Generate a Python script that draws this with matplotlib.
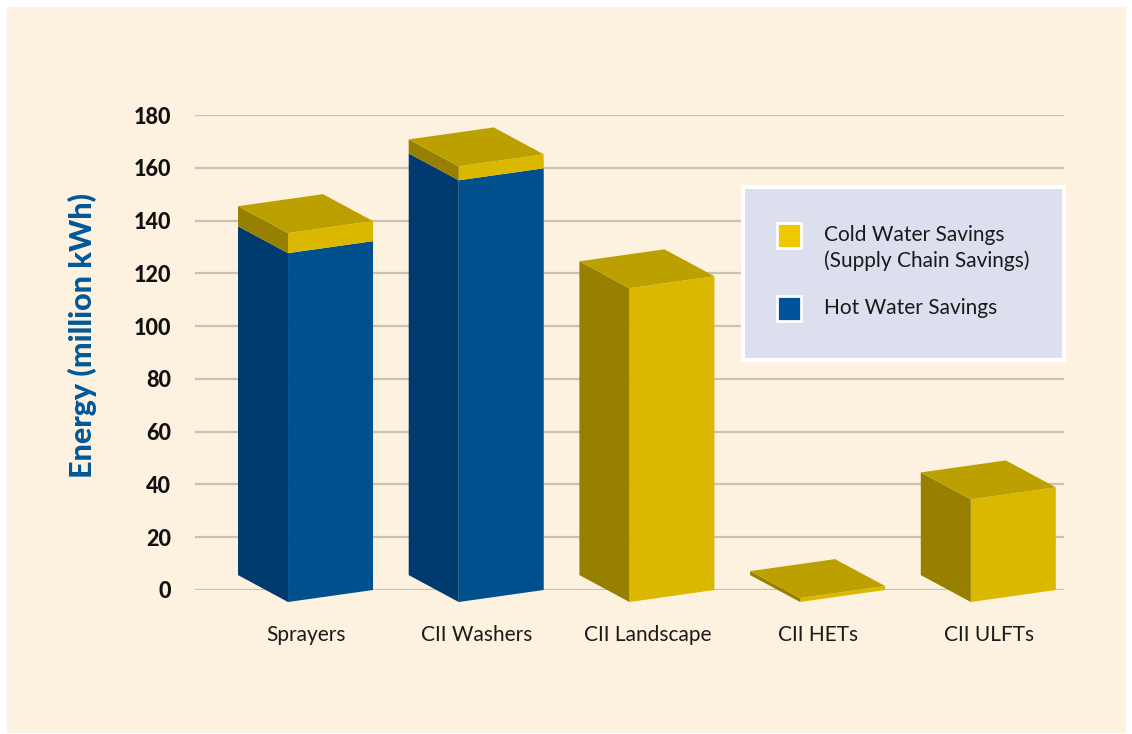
import matplotlib.pyplot as plt
from matplotlib.patches import Polygon, Rectangle

# Data (million kWh)
categories = ['Sprayers', 'CII Washers', 'CII Landscape', 'CII HETs', 'CII ULFTs']
hot_water = [132.2, 159.8, 0.0, 0.0, 0.0]
cold_water = [7.6, 5.3, 118.9, 1.5, 38.9]
y_ticks = [0, 20, 40, 60, 80, 100, 120, 140, 160, 180]

# Colours: (front, side, top)
YELLOW = ('#dbb800', '#978000', '#bca000')
BLUE = ('#00508e', '#003a6e', '#00467e')
CREAM = '#fdf1e0'
GRID = '#cbc2b6'

# Fake-3D geometry in data units
FRONT_W, FRONT_RISE = 0.498, 4.55
SIDE_W, SIDE_RISE = 0.293, 10.2
FRONT_SHIFT = -0.105
BASE = -4.55

plt.rcParams['font.family'] = ['Lato', 'DejaVu Sans']

fig = plt.figure(figsize=(11.32, 7.34), dpi=100, facecolor='white')
fig.patches.append(Rectangle((7 / 1132, 1 / 734), 1119 / 1132, 726 / 734,
                             transform=fig.transFigure, facecolor=CREAM,
                             edgecolor='none', zorder=-10))

ax = fig.add_axes([195 / 1132, 144 / 734, 869 / 1132, 475 / 734])
ax.set_facecolor('none')
ax.set_xlim(-0.650, 4.441)
ax.set_ylim(0, 180)
for s in ax.spines.values():
    s.set_visible(False)

for t in y_ticks:
    ax.axhline(t, color=GRID, lw=1.6, zorder=0)


def draw_block(x, y0, y1, colors, top=False):
    fx = x + FRONT_SHIFT
    a, b = BASE + y0, BASE + y1
    front = [(fx, a), (fx + FRONT_W, a + FRONT_RISE), (fx + FRONT_W, b + FRONT_RISE), (fx, b)]
    side = [(fx, a), (fx - SIDE_W, a + SIDE_RISE), (fx - SIDE_W, b + SIDE_RISE), (fx, b)]
    ax.add_patch(Polygon(front, closed=True, facecolor=colors[0], edgecolor='none', clip_on=False, zorder=3))
    ax.add_patch(Polygon(side, closed=True, facecolor=colors[1], edgecolor='none', clip_on=False, zorder=3))
    if top:
        lid = [(fx, b), (fx + FRONT_W, b + FRONT_RISE),
               (fx + FRONT_W - SIDE_W, b + FRONT_RISE + SIDE_RISE), (fx - SIDE_W, b + SIDE_RISE)]
        ax.add_patch(Polygon(lid, closed=True, facecolor=colors[2], edgecolor='none', clip_on=False, zorder=3))


for i, (h, c) in enumerate(zip(hot_water, cold_water)):
    if h > 0:
        draw_block(i, 0, h, BLUE, top=(c == 0))
    if c > 0:
        draw_block(i, h, h + c, YELLOW, top=True)

ax.set_yticks(y_ticks)
ax.set_yticklabels([str(t) for t in y_ticks], fontsize=15.5, fontweight='black', color='#111111')
ax.set_xticks(range(len(categories)))
ax.set_xticklabels(categories, fontsize=15, color='#1a1a1a')
ax.tick_params(axis='y', length=0, pad=17)
ax.tick_params(axis='x', length=0, pad=25)

fig.text(82 / 1132, 1 - 335 / 734, 'Energy (million kWh)', rotation=90, ha='center', va='center',
         fontsize=22, fontweight='black', color='#00589a')

# Legend box
lg = fig.add_axes([743 / 1132, 1 - 360 / 734, 321 / 1132, 173 / 734])
lg.set_xlim(0, 321)
lg.set_ylim(173, 0)
lg.set_xticks([])
lg.set_yticks([])
lg.set_facecolor('#dbdfee')
for s in lg.spines.values():
    s.set_color('white')
    s.set_linewidth(3)
lg.add_patch(Rectangle((34, 36), 24, 25, facecolor='#f0c800', edgecolor='white', lw=2))
lg.add_patch(Rectangle((34, 109), 24, 25, facecolor='#00529b', edgecolor='white', lw=2))
lg.text(81, 48, 'Cold Water Savings', fontsize=15, va='center', color='#1a1a1a')
lg.text(81, 74, '(Supply Chain Savings)', fontsize=15, va='center', color='#1a1a1a')
lg.text(81, 121, 'Hot Water Savings', fontsize=15, va='center', color='#1a1a1a')

fig.savefig('out.png', dpi=100, facecolor='white')
